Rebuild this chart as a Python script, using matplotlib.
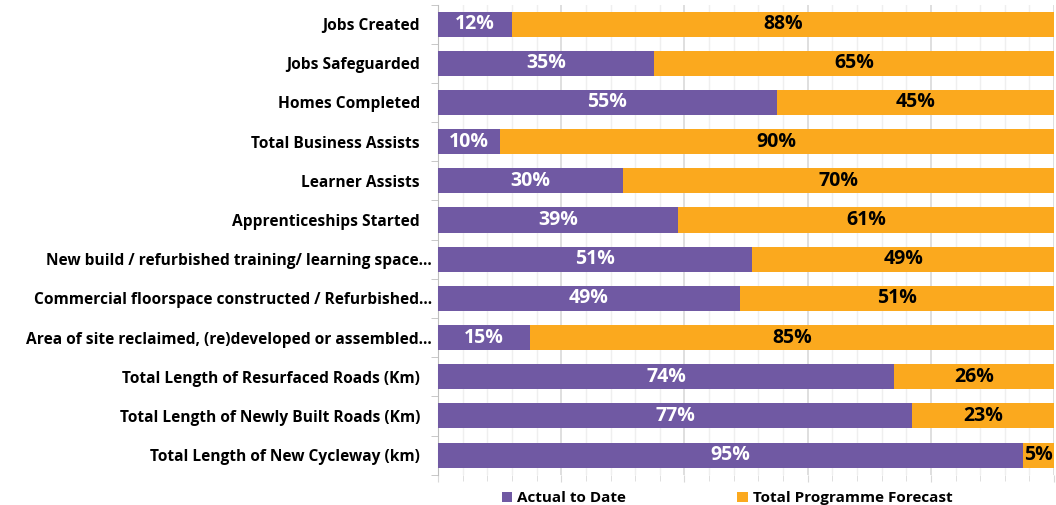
import matplotlib
matplotlib.use("Agg")
import matplotlib.pyplot as plt
from matplotlib.ticker import MultipleLocator
import matplotlib.transforms as mtransforms
import numpy as np

categories = [
    "Jobs Created",
    "Jobs Safeguarded",
    "Homes Completed",
    "Total Business Assists",
    "Learner Assists",
    "Apprenticeships Started",
    "New build / refurbished training/ learning space…",
    "Commercial floorspace constructed / Refurbished…",
    "Area of site reclaimed, (re)developed or assembled…",
    "Total Length of Resurfaced Roads (Km)",
    "Total Length of Newly Built Roads (Km)",
    "Total Length of New Cycleway (km)",
]
actual = [12, 35, 55, 10, 30, 39, 51, 49, 15, 74, 77, 95]
forecast = [88, 65, 45, 90, 70, 61, 49, 51, 85, 26, 23, 5]
series_names = ["Actual to Date", "Total Programme Forecast"]

purple = "#7059A3"
orange = "#FBA91E"

plt.rcParams['font.family'] = ['Open Sans', 'DejaVu Sans']

fig = plt.figure(figsize=(10.56, 5.05), dpi=100)
ax = fig.add_axes([0.4148, 0.060, 0.5834, 0.931])

y = np.arange(len(categories))
a = np.array(actual) / 100
f = np.array(forecast) / 100
h = 0.64
b1 = ax.barh(y, a, height=h, color=purple, label=series_names[0], zorder=3)
b2 = ax.barh(y, f, left=a, height=h, color=orange, label=series_names[1], zorder=3)

for yi, av, fv in zip(y, actual, forecast):
    ax.text(av / 200, yi, f"{av}%", ha="center", va="center", color="white",
            fontsize=14, fontweight="bold", zorder=4)
    ax.text(av / 100 + fv / 200, yi, f"{fv}%", ha="center", va="center", color="black",
            fontsize=14, fontweight="bold", zorder=4)

ax.set_xlim(0, 1)
ax.set_ylim(len(categories) - 0.5, -0.5)
ax.xaxis.set_major_locator(MultipleLocator(0.2))
ax.xaxis.set_minor_locator(MultipleLocator(0.04))
ax.grid(axis="x", which="major", color="#D9D9D9", linewidth=1.2, zorder=0)
ax.grid(axis="x", which="minor", color="#EFEFEF", linewidth=1.0, zorder=0)
ax.tick_params(axis="x", which="both", labelbottom=False, direction="out",
               color="#D9D9D9", length=5)
ax.tick_params(axis="x", which="minor", length=4)

ax.set_yticks(y)
ax.set_yticklabels([])
ax.set_yticks(np.arange(len(categories) + 1) - 0.5, minor=True)
ax.tick_params(axis="y", which="major", length=0)
ax.tick_params(axis="y", which="minor", length=5, color="#BFBFBF")

# category labels, truncated ones sit a little further right (as Excel does)
base = mtransforms.blended_transform_factory(ax.transAxes, ax.transData)
for yi, lab in zip(y, categories):
    dx = -18 if not lab.endswith("…") else -6
    tr = base + mtransforms.ScaledTranslation(dx / 100, -2 / 100, fig.dpi_scale_trans)
    ax.text(0, yi, lab, transform=tr, ha="right", va="center",
            fontsize=11.2, fontweight="bold", color="black")

for s in ["top", "right", "bottom"]:
    ax.spines[s].set_visible(False)
ax.spines["left"].set_color("#BFBFBF")

leg = fig.legend(handles=[b1, b2], labels=series_names, loc="lower left",
                 bbox_to_anchor=(0.462, -0.028), ncol=2, frameon=False,
                 prop={"weight": "bold", "size": 11}, handlelength=0.7,
                 handleheight=0.7, handletextpad=0.3, columnspacing=7.3)

fig.savefig("out.png", dpi=100)
